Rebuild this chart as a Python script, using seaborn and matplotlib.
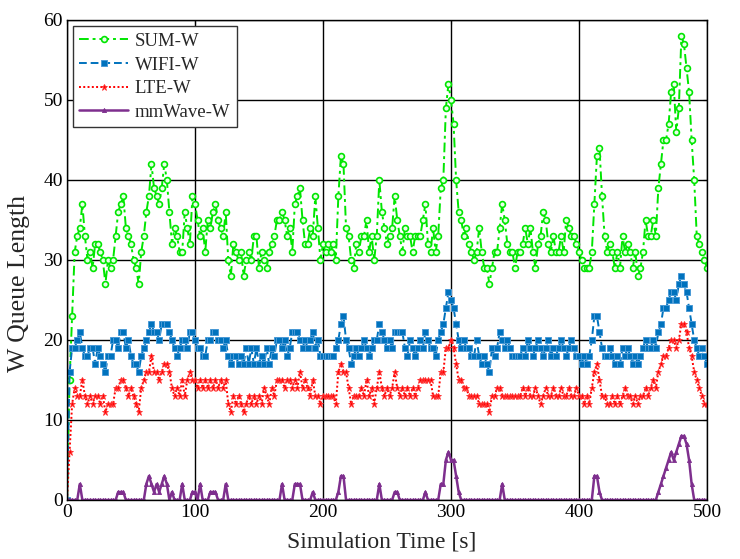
import numpy as np
import pandas as pd
import matplotlib
matplotlib.use("Agg")
import matplotlib.pyplot as plt
import seaborn as sns

# sample times (one sample every 2 s)
time_s = np.arange(0, 502, 2)

sum_w = [
    0, 15, 23, 31, 33, 34, 37, 33, 30, 31,
    29, 32, 32, 31, 30, 27, 30, 29, 30, 33,
    36, 37, 38, 34, 33, 32, 30, 29, 27, 31,
    33, 36, 38, 42, 39, 38, 37, 39, 42, 40,
    36, 32, 34, 33, 31, 31, 36, 34, 32, 38,
    37, 35, 33, 34, 31, 35, 34, 36, 37, 35,
    34, 33, 36, 30, 28, 32, 31, 30, 31, 28,
    30, 31, 30, 33, 33, 29, 31, 30, 29, 31,
    32, 33, 35, 35, 36, 35, 33, 34, 31, 37,
    38, 39, 35, 32, 32, 34, 33, 38, 34, 30,
    32, 31, 32, 31, 32, 30, 38, 43, 42, 34,
    33, 30, 29, 32, 31, 33, 33, 35, 31, 33,
    30, 33, 40, 36, 34, 32, 33, 34, 38, 35,
    33, 31, 34, 33, 33, 31, 33, 33, 33, 35,
    37, 32, 31, 34, 31, 33, 39, 40, 49, 52,
    50, 47, 40, 36, 35, 33, 34, 32, 31, 30,
    31, 34, 31, 29, 29, 27, 29, 31, 31, 34,
    37, 35, 32, 31, 31, 29, 31, 31, 32, 34,
    32, 34, 31, 29, 32, 33, 36, 35, 32, 31,
    33, 31, 31, 33, 31, 35, 34, 33, 33, 32,
    31, 30, 29, 29, 29, 31, 37, 43, 44, 38,
    33, 31, 32, 31, 29, 31, 29, 33, 31, 32,
    31, 29, 31, 28, 29, 31, 35, 33, 33, 35,
    33, 39, 42, 45, 45, 47, 51, 52, 46, 49,
    58, 57, 54, 51, 45, 40, 33, 32, 31, 30, 29,
]

wifi_w = [
    0, 16, 19, 19, 20, 21, 19, 18, 18, 19,
    19, 17, 19, 18, 17, 16, 18, 18, 20, 20,
    19, 21, 21, 19, 20, 18, 17, 17, 16, 18,
    19, 20, 21, 22, 21, 21, 20, 22, 22, 22,
    21, 20, 19, 18, 19, 20, 20, 19, 21, 21,
    20, 19, 19, 18, 18, 20, 20, 21, 21, 20,
    20, 19, 20, 18, 17, 18, 18, 17, 18, 17,
    19, 17, 19, 17, 19, 17, 18, 17, 19, 17,
    19, 18, 20, 20, 19, 20, 18, 19, 21, 21,
    21, 20, 19, 20, 19, 20, 21, 19, 20, 18,
    18, 18, 18, 18, 18, 19, 20, 22, 23, 20,
    19, 17, 18, 19, 18, 19, 20, 19, 18, 19,
    20, 20, 22, 21, 20, 19, 20, 19, 21, 21,
    21, 21, 19, 18, 20, 19, 18, 19, 20, 19,
    21, 20, 19, 19, 18, 20, 21, 22, 24, 26,
    25, 24, 22, 20, 19, 20, 19, 19, 18, 18,
    20, 18, 17, 18, 17, 16, 19, 18, 19, 21,
    20, 19, 20, 19, 18, 18, 18, 18, 19, 18,
    20, 19, 18, 19, 20, 19, 18, 19, 20, 18,
    19, 18, 19, 20, 19, 18, 19, 20, 19, 18,
    18, 17, 18, 17, 18, 20, 23, 23, 21, 19,
    18, 18, 19, 18, 17, 18, 17, 19, 18, 19,
    18, 17, 18, 17, 18, 19, 20, 19, 19, 20,
    19, 21, 22, 24, 24, 25, 26, 26, 25, 27,
    28, 27, 26, 24, 22, 20, 19, 18, 19, 18, 17,
]

lte_w = [
    0, 6, 12, 14, 13, 13, 15, 13, 12, 13,
    12, 13, 13, 12, 13, 11, 12, 12, 12, 14,
    14, 15, 15, 14, 13, 14, 13, 12, 11, 14,
    15, 16, 16, 18, 16, 16, 15, 16, 17, 17,
    16, 14, 13, 14, 13, 15, 13, 15, 16, 15,
    15, 14, 15, 14, 15, 14, 15, 14, 15, 14,
    15, 14, 15, 12, 11, 13, 12, 13, 12, 11,
    12, 13, 12, 13, 12, 13, 12, 14, 13, 12,
    14, 13, 15, 15, 15, 14, 15, 15, 14, 15,
    14, 16, 14, 15, 14, 13, 15, 13, 13, 12,
    13, 13, 13, 13, 13, 12, 16, 17, 16, 16,
    14, 12, 13, 13, 13, 14, 13, 15, 13, 14,
    12, 14, 16, 14, 13, 14, 13, 14, 16, 14,
    13, 14, 13, 14, 13, 14, 13, 14, 15, 15,
    15, 15, 15, 13, 13, 13, 16, 16, 19, 19,
    20, 19, 17, 15, 15, 14, 14, 13, 13, 13,
    13, 12, 12, 12, 12, 11, 13, 13, 14, 14,
    13, 13, 13, 13, 13, 13, 13, 13, 14, 13,
    14, 13, 13, 14, 13, 12, 13, 14, 13, 13,
    14, 13, 13, 14, 13, 13, 14, 13, 13, 14,
    13, 13, 12, 13, 12, 14, 16, 17, 15, 13,
    13, 12, 12, 13, 12, 13, 12, 13, 14, 13,
    13, 12, 13, 12, 13, 13, 14, 13, 14, 15,
    14, 16, 17, 18, 18, 19, 20, 20, 19, 20,
    22, 22, 21, 19, 18, 16, 15, 14, 13, 12, 12,
]

mmwave_w = [
    0, 0, 0, 0, 0, 2, 0, 0, 0, 0,
    0, 0, 0, 0, 0, 0, 0, 0, 0, 0,
    1, 1, 1, 0, 0, 0, 0, 0, 0, 0,
    0, 2, 3, 2, 1, 2, 1, 2, 3, 2,
    0, 1, 0, 0, 0, 2, 0, 0, 0, 1,
    1, 0, 2, 0, 0, 0, 1, 1, 1, 0,
    0, 0, 2, 0, 0, 0, 0, 0, 0, 0,
    0, 0, 0, 0, 0, 0, 0, 0, 0, 0,
    0, 0, 0, 0, 2, 0, 0, 0, 0, 2,
    2, 2, 0, 0, 0, 0, 1, 0, 0, 0,
    0, 0, 0, 0, 0, 0, 1, 3, 3, 0,
    0, 0, 0, 0, 0, 0, 0, 0, 0, 0,
    0, 0, 2, 0, 0, 0, 0, 0, 1, 1,
    0, 0, 0, 0, 0, 0, 0, 0, 0, 0,
    1, 0, 0, 0, 0, 0, 2, 2, 5, 6,
    5, 5, 3, 1, 0, 0, 0, 0, 0, 0,
    0, 0, 0, 0, 0, 0, 0, 0, 0, 0,
    2, 0, 0, 0, 0, 0, 0, 0, 0, 0,
    0, 0, 0, 0, 0, 0, 0, 0, 0, 0,
    0, 0, 0, 0, 0, 0, 0, 0, 0, 0,
    0, 0, 0, 0, 0, 0, 3, 3, 1, 0,
    0, 0, 0, 0, 0, 0, 0, 0, 0, 0,
    0, 0, 0, 0, 0, 0, 0, 0, 0, 0,
    0, 1, 2, 3, 4, 5, 6, 5, 6, 7,
    8, 8, 7, 5, 2, 0, 0, 0, 0, 0, 0,
]

series_names = ["SUM-W", "WIFI-W", "LTE-W", "mmWave-W"]

df = pd.DataFrame({
    "t": time_s,
    "SUM-W": sum_w,
    "WIFI-W": wifi_w,
    "LTE-W": lte_w,
    "mmWave-W": mmwave_w,
})

sns.set_style("white")
plt.rcParams["font.family"] = ["Liberation Serif", "DejaVu Serif"]

fig = plt.figure(figsize=(7.4, 5.59), dpi=100)
ax = fig.add_axes([67 / 740, 1 - 500 / 559, 640 / 740, 480 / 559])

# seaborn puts white marker edges by default, so set edge colours explicitly
styles = {
    "SUM-W": dict(color="#00e600", linestyle=(0, (5, 2, 1.5, 2)), marker="o",
                  markersize=4.2, markerfacecolor="#e8ffe8", markeredgecolor="#00e600",
                  markeredgewidth=1.2, linewidth=1.4),
    "WIFI-W": dict(color="#0072bd", linestyle=(0, (4, 2)), marker="s",
                   markersize=4, markerfacecolor="#0072bd", markeredgecolor="#4a9ad6",
                   markeredgewidth=0.7, linewidth=1.4),
    "LTE-W": dict(color="#ff0000", linestyle=(0, (1, 1.2)), marker="*",
                  markersize=4.5, markerfacecolor="#ff0000", markeredgecolor="#ff3030",
                  markeredgewidth=0.6, linewidth=1.4),
    "mmWave-W": dict(color="#7e2f8e", linestyle="-", marker="^",
                     markersize=3, markerfacecolor="#7e2f8e", markeredgecolor="#7e2f8e",
                     markeredgewidth=0.6, linewidth=1.8),
}

for name in series_names:
    sns.lineplot(data=df, x="t", y=name, ax=ax, label=name, **styles[name])

ax.set_xlim(0, 500)
ax.set_ylim(0, 60)
ax.set_xticks([0, 100, 200, 300, 400, 500])
ax.set_yticks([0, 10, 20, 30, 40, 50, 60])
ax.grid(True, color="black", linewidth=1.0, linestyle="-")
ax.set_axisbelow(True)
for s in ax.spines.values():
    s.set_color("black")
    s.set_linewidth(1.0)
ax.tick_params(direction="in", length=3, top=True, right=True, labelsize=14,
               colors="black", pad=3)

ax.set_xlabel("Simulation Time [s]", fontsize=17)
ax.set_ylabel("W Queue Length", fontsize=18.5)
ax.xaxis.set_label_coords(0.492, -0.066)
ax.yaxis.set_label_coords(-0.058, 0.45)

leg = ax.legend(loc="upper left", bbox_to_anchor=(0.003, 0.995), fontsize=13.5,
                frameon=True, fancybox=False, edgecolor="#333333", framealpha=1,
                handlelength=2.6, handletextpad=0.35, borderpad=0.35,
                labelspacing=0.35, borderaxespad=0.2)
leg.get_frame().set_linewidth(1.0)

fig.savefig("out.png", dpi=100)
